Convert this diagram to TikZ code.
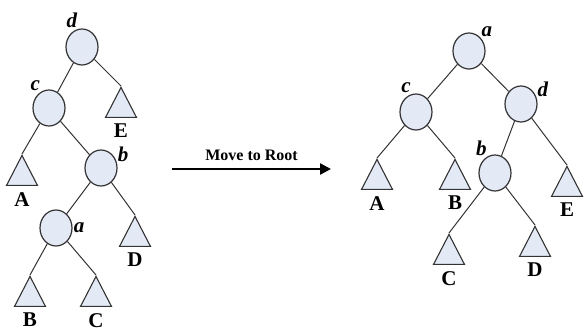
\documentclass[tikz,border=0pt]{standalone}
\usepackage{fontspec}
\setmainfont{Liberation Serif}
\usetikzlibrary{arrows.meta, shapes.geometric}
\definecolor{trInk}{HTML}{333333}
\definecolor{trFill}{HTML}{E3EAF6}
\tikzset{
  key/.style={
    ellipse, draw=trInk, line width=1.2pt, fill=trFill,
    minimum width=32pt, minimum height=36pt, inner sep=0pt
  },
  sub/.style={
    isosceles triangle, shape border rotate=90, isosceles triangle stretches,
    draw=trInk, line width=1.1pt, fill=trFill, inner sep=0pt,
    minimum width=31pt, minimum height=30pt, anchor=apex
  },
  keylbl/.style={font=\fontsize{21}{23}\selectfont\bfseries\itshape, inner sep=0pt, label distance=1pt},
  sublbl/.style={font=\fontsize{21}{23}\selectfont\bfseries, inner sep=0pt, label distance=6pt},
  link/.style={draw=trInk, line width=1pt},
  move/.style={-{Triangle[length=11pt, width=11pt]}, line width=2.4pt, draw=black},
  movelbl/.style={font=\fontsize{16}{18}\selectfont\bfseries, inner sep=1pt},
}
\begin{document}
\begin{tikzpicture}[x=1pt, y=-1pt]
  \useasboundingbox (0,0) rectangle (584,332);

  % before: a sits deep in the tree
  \node[key, label={[keylbl]104:d}] (ld) at (82,47)  {};
  \node[key, label={[keylbl]118:c}] (lc) at (49,108) {};
  \node[key, label={[keylbl]20:b}]  (lb) at (101,168) {};
  \node[key, label={[keylbl]0:a}]   (la) at (56,228) {};
  \node[sub, label={[sublbl]below:E}] (lE) at (121,86)  {};
  \node[sub, label={[sublbl]below:A}] (lA) at (22,154)  {};
  \node[sub, label={[sublbl]below:D}] (lD) at (135,215) {};
  \node[sub, label={[sublbl]below:B}] (lB) at (30,275)  {};
  \node[sub, label={[sublbl]below:C}] (lC) at (96,275)  {};

  \draw[link] (ld) -- (lc); \draw[link] (ld) -- (lE.apex);
  \draw[link] (lc) -- (lA.apex); \draw[link] (lc) -- (lb);
  \draw[link] (lb) -- (la); \draw[link] (lb) -- (lD.apex);
  \draw[link] (la) -- (lB.apex); \draw[link] (la) -- (lC.apex);

  % the move
  \coordinate (m1) at (172,169);
  \coordinate (m2) at (331,169);
  \draw[move] (m1) -- node[movelbl, above=6pt] {Move to Root} (m2);

  % after: a is the root
  \node[key, label={[keylbl]48:a}]  (ra) at (469,51)  {};
  \node[key, label={[keylbl]105:c}] (rc) at (416,112) {};
  \node[key, label={[keylbl]23:d}]  (rd) at (521,104) {};
  \node[key, label={[keylbl]115:b}] (rb) at (495,173) {};
  \node[sub, label={[sublbl]below:A}] (rA) at (377,158) {};
  \node[sub, label={[sublbl]below:B}] (rB) at (455,158) {};
  \node[sub, label={[sublbl]below:E}] (rE) at (567,165) {};
  \node[sub, label={[sublbl]below:C}] (rC) at (449,233) {};
  \node[sub, label={[sublbl]below:D}] (rD) at (535,225) {};

  \draw[link] (ra) -- (rc); \draw[link] (ra) -- (rd);
  \draw[link] (rc) -- (rA.apex); \draw[link] (rc) -- (rB.apex);
  \draw[link] (rd) -- (rb); \draw[link] (rd) -- (rE.apex);
  \draw[link] (rb) -- (rC.apex); \draw[link] (rb) -- (rD.apex);
\end{tikzpicture}
\end{document}
